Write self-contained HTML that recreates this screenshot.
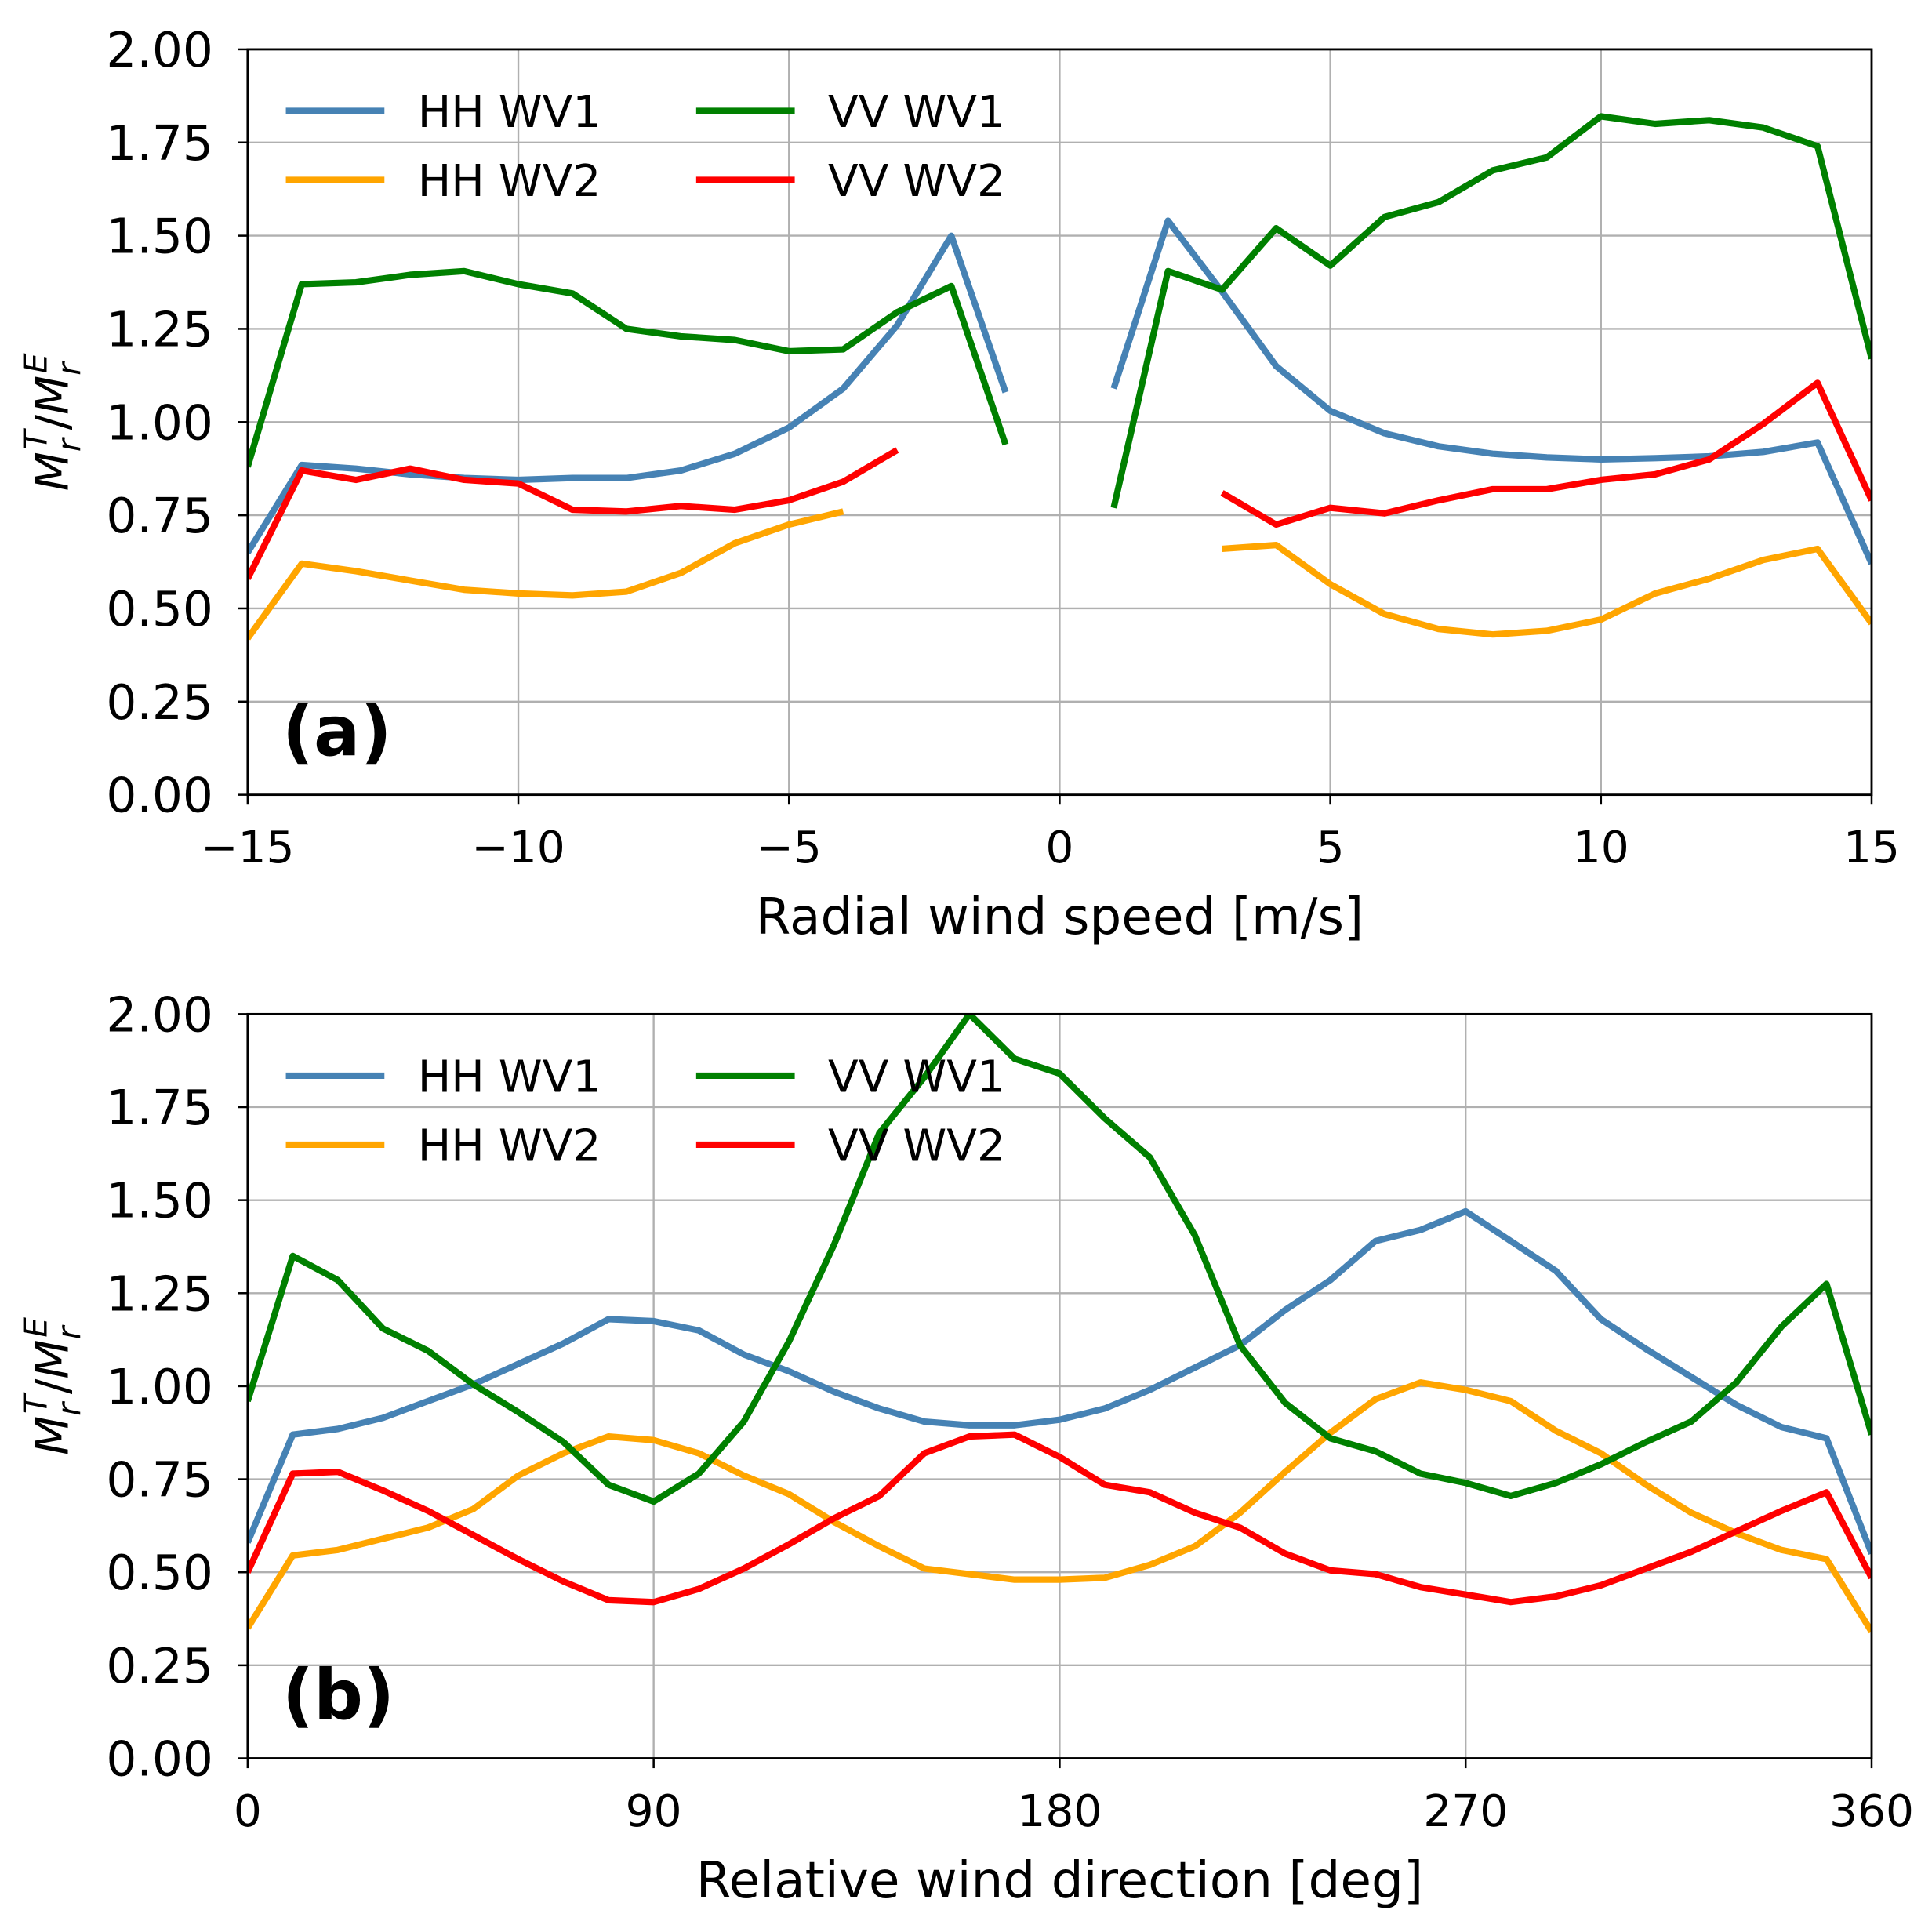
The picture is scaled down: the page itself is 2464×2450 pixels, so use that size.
<!DOCTYPE html>
<html><head><meta charset="utf-8"><style>
html,body{margin:0;padding:0;background:#fff}
svg{display:block;font-family:"DejaVu Sans","Liberation Sans",sans-serif}
</style></head><body>
<svg id="fig" width="2464" height="2450" viewBox="0 0 1568 1559" xmlns="http://www.w3.org/2000/svg"></svg>
<script>
// ---- data: panel (a) ----
const speedX = [-15,-14,-13,-12,-11,-10,-9,-8,-7,-6,-5,-4,-3,-2,-1,0,1,2,3,4,5,6,7,8,9,10,11,12,13,14,15];
const aHHWV1 = [0.65,0.885,0.875,0.86,0.85,0.845,0.85,0.85,0.87,0.915,0.985,1.09,1.26,1.50,1.08,null,1.09,1.54,1.35,1.15,1.03,0.97,0.935,0.915,0.905,0.90,0.903,0.908,0.92,0.945,0.62];
const aVVWV1 = [0.88,1.37,1.375,1.395,1.405,1.37,1.345,1.25,1.23,1.22,1.19,1.195,1.295,1.365,0.94,null,0.77,1.405,1.355,1.52,1.42,1.55,1.59,1.675,1.71,1.82,1.80,1.81,1.79,1.74,1.17];
const aHHWV2 = [0.42,0.62,0.60,0.575,0.55,0.54,0.535,0.545,0.595,0.675,0.725,0.76,null,null,null,null,null,null,0.66,0.67,0.565,0.485,0.445,0.43,0.44,0.47,0.54,0.58,0.63,0.66,0.46];
const aVVWV2 = [0.58,0.87,0.845,0.875,0.845,0.835,0.765,0.76,0.775,0.765,0.79,0.84,0.925,null,null,null,null,null,0.81,0.725,0.77,0.755,0.79,0.82,0.82,0.845,0.86,0.90,0.995,1.105,0.79];
const aXTicks = [-15,-10,-5,0,5,10,15];
const aXTickLabels = ["\u221215","\u221210","\u22125","0","5","10","15"];
// ---- data: panel (b) ----
const dirX = [0,10,20,30,40,50,60,70,80,90,100,110,120,130,140,150,160,170,180,190,200,210,220,230,240,250,260,270,280,290,300,310,320,330,340,350,360];
const bHHWV1 = [0.58,0.87,0.885,0.915,0.96,1.005,1.06,1.115,1.18,1.175,1.15,1.085,1.04,0.985,0.94,0.905,0.895,0.895,0.91,0.94,0.99,1.05,1.11,1.205,1.285,1.39,1.42,1.47,1.39,1.31,1.18,1.10,1.025,0.95,0.89,0.86,0.55];
const bVVWV1 = [0.96,1.35,1.285,1.155,1.095,1.005,0.93,0.85,0.735,0.69,0.765,0.905,1.12,1.38,1.68,1.83,2.0,1.88,1.84,1.72,1.615,1.405,1.11,0.955,0.86,0.825,0.765,0.74,0.705,0.74,0.79,0.85,0.905,1.01,1.16,1.275,0.87];
const bHHWV2 = [0.35,0.545,0.56,0.59,0.62,0.67,0.76,0.82,0.865,0.855,0.82,0.76,0.71,0.635,0.57,0.51,0.495,0.48,0.48,0.485,0.52,0.57,0.66,0.77,0.875,0.965,1.01,0.99,0.96,0.88,0.82,0.735,0.66,0.605,0.56,0.535,0.34];
const bVVWV2 = [0.5,0.765,0.77,0.72,0.665,0.6,0.535,0.475,0.425,0.42,0.455,0.51,0.575,0.645,0.705,0.82,0.865,0.87,0.81,0.735,0.715,0.66,0.62,0.55,0.505,0.495,0.46,0.44,0.42,0.435,0.465,0.51,0.555,0.61,0.665,0.715,0.485];
const bXTicks = [0,90,180,270,360];
const bXTickLabels = ["0","90","180","270","360"];
const yTicks = [0,0.25,0.5,0.75,1.0,1.25,1.5,1.75,2.0];
const yTickLabels = ["0.00","0.25","0.50","0.75","1.00","1.25","1.50","1.75","2.00"];

const NS = "http://www.w3.org/2000/svg";
const svg = document.getElementById('fig');
function mk(tag, attrs, parent){
  const e = document.createElementNS(NS, tag);
  for (const k in attrs) e.setAttribute(k, attrs[k]);
  (parent||svg).appendChild(e);
  return e;
}
const colors = {hh1:"#4682b4", hh2:"#ffa500", vv1:"#008000", vv2:"#ff0000"};
const LW = 5.2;

function panel(o){
  const g = mk('g', {});
  
  
  const X0=201, X1=1519;
  const sx = v => X0 + (v - o.xmin)/(o.xmax - o.xmin)*(X1-X0);
  const sy = v => o.yb - v/2*(o.yb - o.yt);
  o.xticks.forEach((t,i)=>{
    const l = mk('line',{x1:sx(t),x2:sx(t),y1:o.yt,y2:o.yb,stroke:"#b0b0b0","stroke-width":1.5},g);
    
    
  });
  yTicks.forEach(t=>{
    const l = mk('line',{x1:X0,x2:X1,y1:sy(t),y2:sy(t),stroke:"#b0b0b0","stroke-width":1.5},g);
    
    
  });
  const order = [[o.hh1,colors.hh1,'hh-wv1-line'],[o.hh2,colors.hh2,'hh-wv2-line'],[o.vv1,colors.vv1,'vv-wv1-line'],[o.vv2,colors.vv2,'vv-wv2-line']];
  order.forEach(([ys,c,n])=>{
    let d="", pen=false;
    ys.forEach((v,i)=>{
      if(v===null){pen=false;return;}
      d += (pen?"L":"M")+sx(o.xs[i]).toFixed(1)+","+sy(v).toFixed(1)+" ";
      pen=true;
    });
    const p = mk('path',{d:d,fill:"none",stroke:c,"stroke-width":LW,"stroke-linejoin":"round","clip-path":"url(#"+o.clip+")"},g);
    
    
  });
  const fr = mk('rect',{x:X0,y:o.yt,width:X1-X0,height:o.yb-o.yt,fill:"none",stroke:"#000","stroke-width":1.8},g);
  
  
  o.xticks.forEach((t,i)=>{
    mk('line',{x1:sx(t),x2:sx(t),y1:o.yb,y2:o.yb+8,stroke:"#000","stroke-width":1.6},g);
    const tx = mk('text',{x:sx(t),y:o.yb+55,"text-anchor":"middle","font-size":36,fill:"#000"},g);
    tx.textContent = o.xlabels[i];
    
    
  });
  yTicks.forEach((t,i)=>{
    mk('line',{x1:X0-8,x2:X0,y1:sy(t),y2:sy(t),stroke:"#000","stroke-width":1.6},g);
    const tx = mk('text',{x:X0-28,y:sy(t)+14,"text-anchor":"end","font-size":39,fill:"#000"},g);
    tx.textContent = yTickLabels[i];
    
    
  });
  const xl = mk('text',{x:(X0+X1)/2,y:o.yb+113,"text-anchor":"middle","font-size":41,fill:"#000"},g);
  xl.textContent = o.xtitle;
  
  
  const cy=(o.yt+o.yb)/2;
  const yl = mk('text',{transform:"translate(55,"+cy+") rotate(-90)","text-anchor":"middle","font-size":37,"font-style":"italic",fill:"#000"},g);
  yl.innerHTML = 'M<tspan font-size="26" dy="10">r</tspan><tspan font-size="26" dx="-9" dy="-27">T</tspan><tspan dy="17" font-style="normal">/</tspan>M<tspan font-size="26" dy="10">r</tspan><tspan font-size="26" dx="-9" dy="-27">E</tspan>';
  
  
  const pl = mk('text',{x:229,y:o.yb-32,"font-size":56,"font-weight":"bold",fill:"#000"},g);
  pl.textContent = o.label;
  
  
  const ly = o.yt+50;
  [["HH WV1",colors.hh1,232,ly],["HH WV2",colors.hh2,232,ly+56],["VV WV1",colors.vv1,565,ly],["VV WV2",colors.vv2,565,ly+56]].forEach(([t,c,x,y])=>{
    const lg = mk('g',{},g);
    
    
    mk('line',{x1:x,x2:x+80,y1:y,y2:y,stroke:c,"stroke-width":LW},lg);
    const tt = mk('text',{x:x+107,y:y+13,"font-size":36,fill:"#000"},lg);
    tt.textContent = t;
  });
}
const defs = mk('defs',{});
const c1 = mk('clipPath',{id:"ca"},defs); mk('rect',{x:201,y:40,width:1318,height:605},c1);
const c2 = mk('clipPath',{id:"cb"},defs); mk('rect',{x:201,y:823,width:1318,height:604},c2);
panel({name:"panel-a-chart",xs:speedX,hh1:aHHWV1,vv1:aVVWV1,hh2:aHHWV2,vv2:aVVWV2,xmin:-15,xmax:15,yt:40,yb:645,xticks:aXTicks,xlabels:aXTickLabels,xtitle:"Radial wind speed [m/s]",label:"(a)",clip:"ca"});
panel({name:"panel-b-chart",xs:dirX,hh1:bHHWV1,vv1:bVVWV1,hh2:bHHWV2,vv2:bVVWV2,xmin:0,xmax:360,yt:823,yb:1427,xticks:bXTicks,xlabels:bXTickLabels,xtitle:"Relative wind direction [deg]",label:"(b)",clip:"cb"});
</script>
</body></html>
